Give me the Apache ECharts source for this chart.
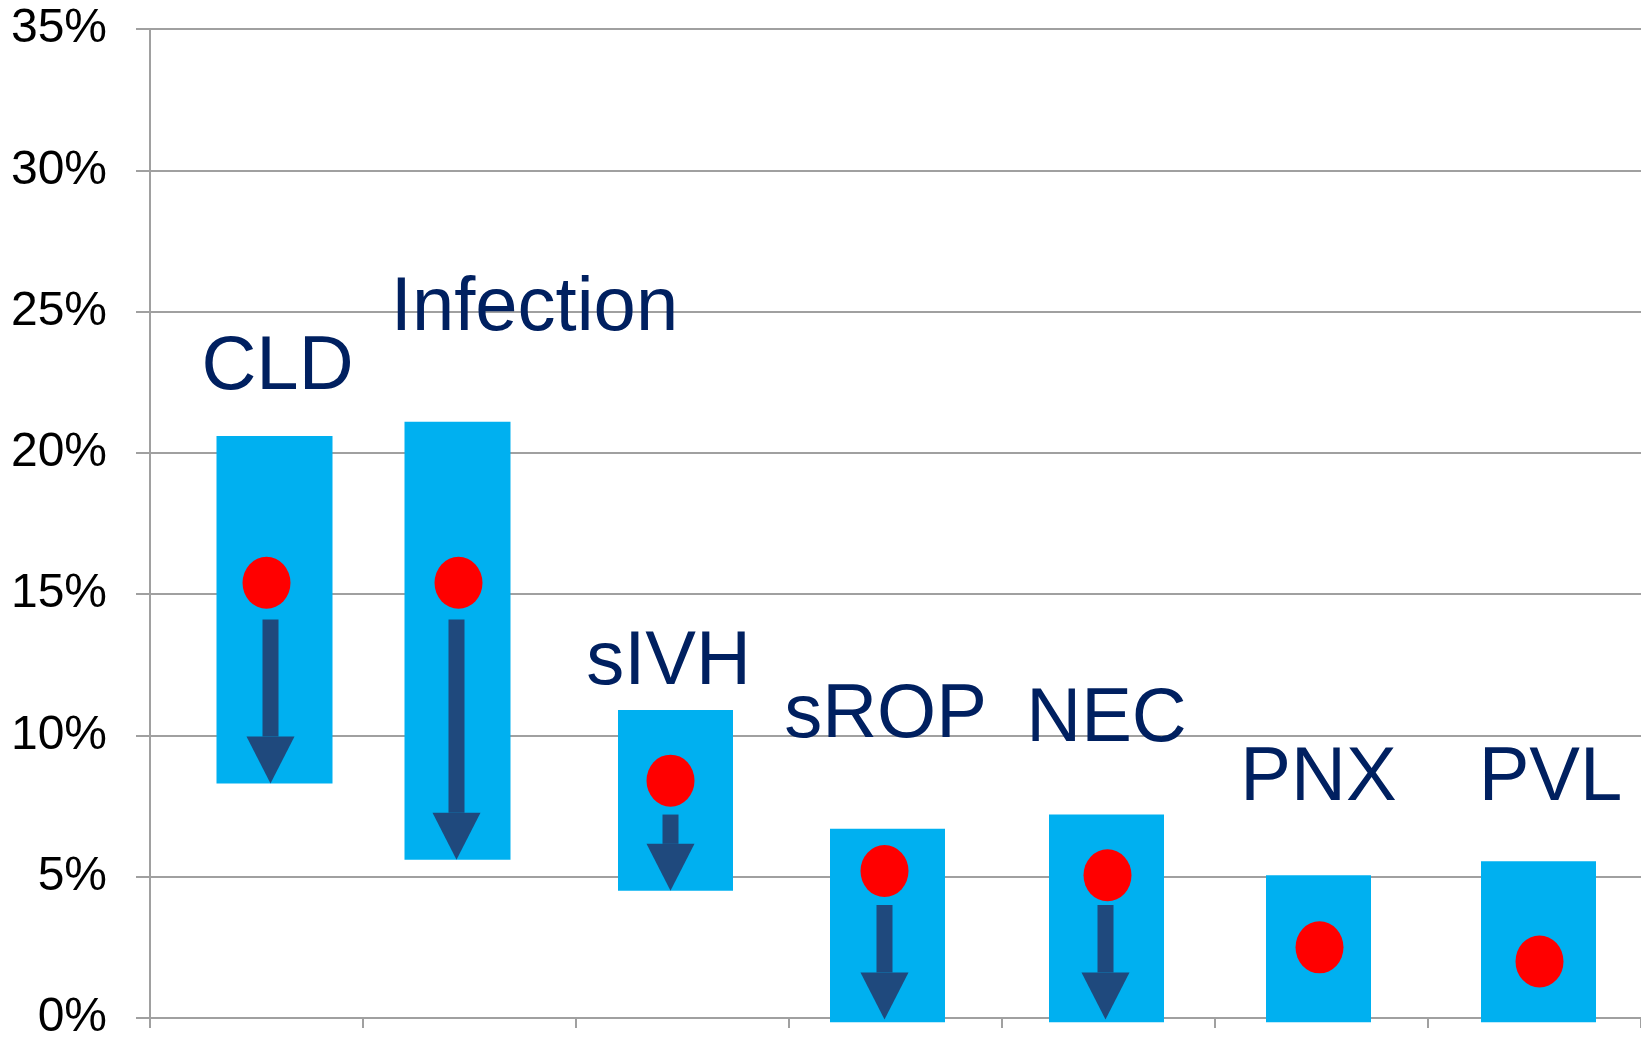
<!DOCTYPE html>
<html>
<head>
<meta charset="utf-8">
<script src="https://cdn.jsdelivr.net/npm/echarts@6/dist/echarts.min.js"></script>
<style>
  html, body { margin: 0; padding: 0; background: #fff; }
  #chart { width: 1641px; height: 1038px; }
</style>
</head>
<body>
<div id="chart"></div>
<script>
// outcome categories
const categories = ['CLD', 'Infection', 'sIVH', 'sROP', 'NEC', 'PNX', 'PVL']

// range boxes (%)
const rangeLow = [8.3, 5.6, 4.5, -0.15, -0.15, -0.15, -0.15]
const rangeHigh = [20.6, 21.1, 10.9, 6.7, 7.2, 5.05, 5.55]

// red point estimate (%)
const pointValues = [15.4, 15.4, 8.4, 5.2, 5.05, 2.5, 2.0]

// arrows: from / to (%)
const arrowFrom = [14.1, 14.1, 7.2, 4.0, 4.0, null, null]
const arrowTo = [8.3, 5.6, 4.5, -0.05, -0.05, null, null]

// level of the name above each box (%)
const labelLevel = [23.0, 25.1, 12.55, 10.7, 10.55, 8.44, 8.44]

const yTicks = { min: 0, max: 35, interval: 5 }

const FONT = "'Liberation Sans', Arial, sans-serif"
const GRAY = '#A0A0A0'

// hand placed shapes in the original: small horizontal nudges (px) and box widths
const boxNudge = [18, -12, -7, -8, -2, -3, 4]
const boxWidth = [116, 106, 115, 115, 115, 105, 115]
const dotNudge = [10, -11, -12, -11, -1, -2, 5]
const arrowNudge = [14, -13, -12, -11, -3, 0, 0]
const labelNudge = [21, 65, -14, -10, -2, -3, 16]

const chart = echarts.init(document.getElementById('chart'))

// 区间方块
function renderRange(params, api) {
  const i = api.value(0)
  const top = api.coord([i, api.value(2)])
  const bot = api.coord([i, api.value(1)])
  const w = boxWidth[i]
  const x = top[0] + boxNudge[i]
  return {
    type: 'rect',
    shape: { x: x - w / 2, y: top[1], width: w, height: bot[1] - top[1] },
    style: { fill: '#00B0F0' }
  }
}

// 箭头
function renderArrow(params, api) {
  const i = api.value(0)
  const p0 = api.coord([i, api.value(1)])
  const p1 = api.coord([i, api.value(2)])
  const headH = 47
  const headW = 48
  const shaftW = 16
  const x = p0[0] + arrowNudge[i]
  return {
    type: 'group',
    children: [
      {
        type: 'rect',
        shape: { x: x - shaftW / 2, y: p0[1], width: shaftW, height: p1[1] - headH - p0[1] },
        style: { fill: '#1F497D' }
      },
      {
        type: 'polygon',
        shape: { points: [[x - headW / 2, p1[1] - headH], [x + headW / 2, p1[1] - headH], [x, p1[1]]] },
        style: { fill: '#1F497D' }
      }
    ]
  }
}

// 名称
function renderName(params, api) {
  const i = api.value(0)
  const p = api.coord([i, api.value(1)])
  return {
    type: 'text',
    x: p[0] + labelNudge[i],
    y: p[1],
    style: {
      text: categories[i],
      fontSize: 76,
      fontFamily: FONT,
      fill: '#002060',
      align: 'center',
      verticalAlign: 'middle'
    }
  }
}

const option = {
  animation: false,
  backgroundColor: '#fff',
  grid: { left: 150, right: 0, top: 29, bottom: 20, outerBoundsMode: 'none' },
  xAxis: {
    type: 'category',
    data: categories,
    boundaryGap: true,
    axisLine: { lineStyle: { color: GRAY, width: 2 } },
    axisTick: { show: true, length: 10, lineStyle: { color: GRAY, width: 2 } },
    axisLabel: { show: false },
    splitLine: { show: false }
  },
  yAxis: {
    type: 'value',
    min: yTicks.min,
    max: yTicks.max,
    interval: yTicks.interval,
    axisLine: { show: true, lineStyle: { color: GRAY, width: 2 } },
    axisTick: { show: true, length: 14, lineStyle: { color: GRAY, width: 2 } },
    axisLabel: {
      formatter: '{value}%',
      fontSize: 48,
      fontFamily: FONT,
      color: '#000',
      margin: 43
    },
    splitLine: { lineStyle: { color: GRAY, width: 2 } }
  },
  series: [
    {
      type: 'custom',
      renderItem: renderRange,
      data: categories.map((c, i) => [i, rangeLow[i], rangeHigh[i]]),
      z: 2
    },
    {
      type: 'scatter',
      data: categories.map((c, i) => ({
        value: [i, pointValues[i]],
        symbolOffset: [dotNudge[i], 0]
      })),
      symbol: 'circle',
      symbolSize: [48, 52],
      itemStyle: { color: '#FF0000', opacity: 1 },
      z: 3
    },
    {
      type: 'custom',
      renderItem: renderArrow,
      data: categories
        .map((c, i) => [i, arrowFrom[i], arrowTo[i]])
        .filter(d => d[1] !== null),
      z: 3
    },
    {
      type: 'custom',
      renderItem: renderName,
      data: categories.map((c, i) => [i, labelLevel[i]]),
      z: 4
    }
  ]
}

chart.setOption(option)
window.addEventListener('resize', chart.resize)
</script>
</body>
</html>
